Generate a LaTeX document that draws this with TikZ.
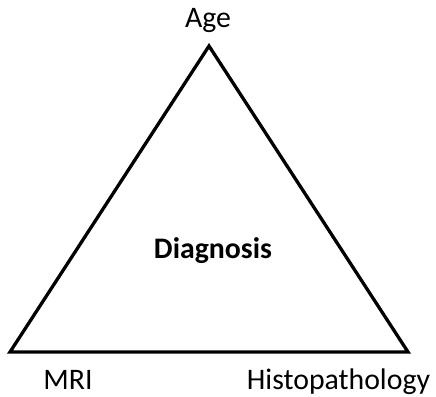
\documentclass[tikz,border=0pt]{standalone}
\usepackage{fontspec}
\setmainfont{Carlito}
\begin{document}
\begin{tikzpicture}[x=1pt,y=-1pt,
  lbl/.style={anchor=base,inner sep=0pt,font=\fontsize{29.8}{34}\selectfont},
  edge/.style={line width=3.3pt,line join=miter}]
\useasboundingbox (0,0) rectangle (436,396);
\coordinate (apex) at (209,46);
\coordinate (bl) at (10,352);
\coordinate (br) at (408,352);
\draw[edge] (apex) -- (bl) -- (br) -- cycle;
\node[lbl] (age) at (208,28) {Age};
\node[lbl,font=\fontsize{29.8}{34}\selectfont\bfseries] (dx) at (213,258) {Diagnosis};
\node[lbl] (mri) at (68,389) {MRI};
\node[lbl] (histo) at (338.5,389) {Histopathology};
\end{tikzpicture}
\end{document}
